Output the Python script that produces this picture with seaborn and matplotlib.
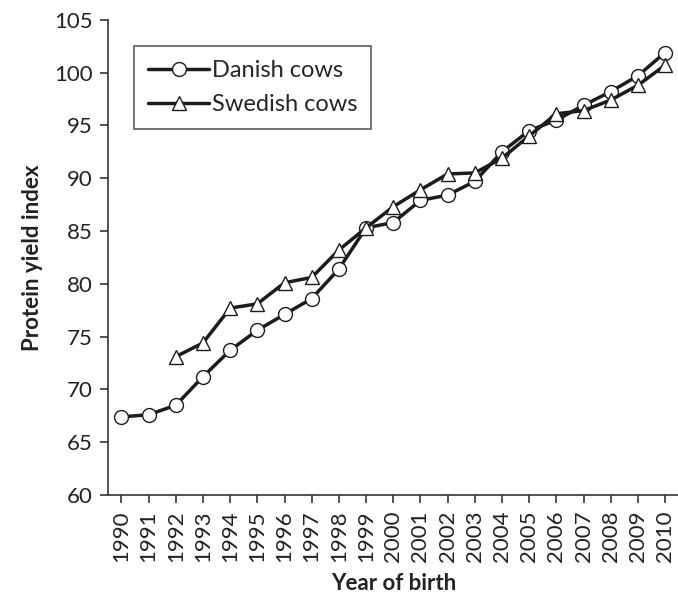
import matplotlib
matplotlib.use("Agg")
import matplotlib.pyplot as plt
import pandas as pd
import seaborn as sns

years = list(range(1990, 2011))
danish = [67.4, 67.6, 68.5, 71.2, 73.7, 75.6, 77.1, 78.6, 81.4, 85.3, 85.8,
          87.9, 88.4, 89.7, 92.5, 94.5, 95.5, 96.9, 98.2, 99.7, 101.9]
swedish_years = list(range(1992, 2011))
swedish = [73.1, 74.4, 77.7, 78.1, 80.1, 80.6, 83.2, 85.3, 87.3, 88.9,
           90.4, 90.5, 91.9, 94.0, 96.1, 96.4, 97.4, 98.8, 100.7]

sns.set_theme(style="white")
plt.rcParams["font.family"] = ["Lato", "DejaVu Sans"]

ink = "#1c1c1c"
df_dk = pd.DataFrame({"year": years, "value": danish})
df_se = pd.DataFrame({"year": swedish_years, "value": swedish})

fig = plt.figure(figsize=(6.78, 6.0), dpi=100)
ax = fig.add_axes([0.159, 0.175, 0.842, 0.792])

sns.lineplot(data=df_dk, x="year", y="value", ax=ax, color=ink, linewidth=2.5,
             marker="o", markersize=10, markerfacecolor="white",
             markeredgecolor=ink, markeredgewidth=1.0, label="Danish cows")
sns.lineplot(data=df_se, x="year", y="value", ax=ax, color=ink, linewidth=2.5,
             marker="^", markersize=10, markerfacecolor="white",
             markeredgecolor=ink, markeredgewidth=1.0, label="Swedish cows")

ax.set_xlim(1989.5, 2010.5)
ax.set_ylim(60, 105)
ax.set_yticks(range(60, 106, 5))
ax.set_xticks(years)
ax.set_xticklabels([str(y) for y in years], rotation=90)
ax.tick_params(axis="both", which="both", direction="out", length=6, width=1.2,
               color="#333333", labelsize=16, labelcolor="#222222",
               bottom=True, left=True, pad=5)
for side in ["top", "right"]:
    ax.spines[side].set_visible(False)
for side in ["left", "bottom"]:
    ax.spines[side].set_color("#333333")
    ax.spines[side].set_linewidth(1.2)

ax.set_xlabel("Year of birth", fontsize=16, fontweight="bold", color="#222222", labelpad=8)
ax.set_ylabel("Protein yield index", fontsize=16, fontweight="bold", color="#222222", labelpad=8)

leg = ax.legend(loc="upper left", bbox_to_anchor=(0.025, 0.97), fontsize=17,
                frameon=True, fancybox=False, edgecolor="#333333",
                handlelength=2.6, handletextpad=0.1, borderpad=0.6, labelspacing=0.55)
leg.get_frame().set_linewidth(1.2)

fig.savefig("out.png", dpi=100)
